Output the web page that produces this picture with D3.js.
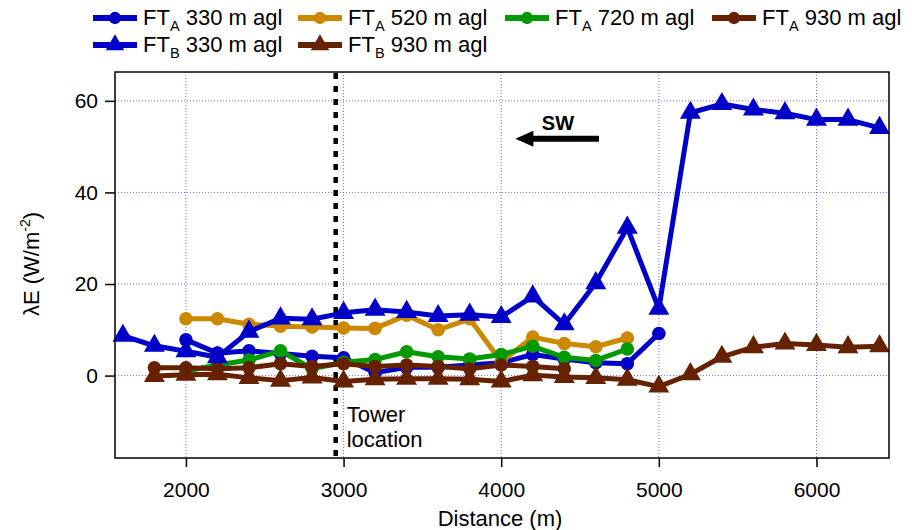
<!DOCTYPE html>
<html>
<head>
<meta charset="utf-8">
<script src="https://cdn.jsdelivr.net/npm/d3@7"></script>
<style>
  body { margin: 0; background: #fff; }
  text { font-family: "Liberation Sans", Arial, sans-serif; fill: #000; }
</style>
</head>
<body>
<svg id="chart" width="912" height="530"></svg>
<script>
// data (lambda E, W/m2) along the flight track, every 200 m
var distance = [1600, 1800, 2000, 2200, 2400, 2600, 2800, 3000, 3200, 3400, 3600, 3800, 4000,
                4200, 4400, 4600, 4800, 5000, 5200, 5400, 5600, 5800, 6000, 6200, 6400];

var ftA330 = [null, null, 7.8, 4.9, 5.4, 4.8, 4.2, 3.9, 0.6, 1.8, 1.8, 2.3, 2.8,
              4.6, 3.6, 2.8, 2.6, 9.2, null, null, null, null, null, null, null];
var ftA520 = [null, null, 12.4, 12.4, 11.2, 10.8, 10.6, 10.4, 10.3, 13.2, 10.0, 12.4, 3.0,
              8.4, 7.0, 6.3, 8.2, null, null, null, null, null, null, null, null];
var ftA720 = [null, null, 1.0, 2.3, 3.4, 5.4, 1.5, 2.9, 3.5, 5.2, 4.1, 3.6, 4.6,
              6.4, 4.0, 3.3, 5.8, null, null, null, null, null, null, null, null];
var ftA930 = [null, 1.7, 1.7, 1.5, 1.7, 2.6, 2.0, 2.6, 2.0, 2.3, 2.0, 1.5, 2.3,
              2.0, 1.5, null, null, null, null, null, null, null, null, null, null];
var ftB330 = [8.7, 6.5, 5.3, 4.0, 9.6, 12.5, 12.3, 13.7, 14.4, 13.9, 13.0, 13.3, 12.8,
              17.3, 11.2, 20.2, 32.3, 14.6, 57.4, 59.3, 58.1, 57.3, 55.9, 55.9, 54.1];
var ftB930 = [null, -0.1, 0.2, 0.3, -0.5, -1.1, -0.4, -1.3, -0.8, -0.7, -0.7, -0.8, -1.3,
              0.1, -0.3, -0.5, -0.9, -2.4, 0.3, 4.1, 6.2, 7.0, 6.7, 6.2, 6.4];

var xTicks = [2000, 3000, 4000, 5000, 6000];
var yTicks = [0, 20, 40, 60];
var towerAt = 2950;

// series: subscript, rest of name, values, colour, marker
var series = [
  {sub: "A", rest: " 330 m agl", values: ftA330, color: "#0000c8", shape: "circle"},
  {sub: "A", rest: " 520 m agl", values: ftA520, color: "#cc8800", shape: "circle"},
  {sub: "A", rest: " 720 m agl", values: ftA720, color: "#009a00", shape: "circle"},
  {sub: "A", rest: " 930 m agl", values: ftA930, color: "#662200", shape: "circle"},
  {sub: "B", rest: " 330 m agl", values: ftB330, color: "#0000c8", shape: "triangle"},
  {sub: "B", rest: " 930 m agl", values: ftB930, color: "#662200", shape: "triangle"}
];

var svg = d3.select("#chart");
var pLeft = 115, pRight = 889, pTop = 72, pBottom = 458;
var fs = 21;

var x = d3.scaleLinear().domain([1550, 6460]).range([pLeft, pRight]);
var y = d3.scaleLinear().domain([-18, 66.3]).range([pBottom, pTop]);

// grid
var grid = svg.append("g");
grid.selectAll(".gx").data(xTicks).enter().append("line")
  .attr("x1", function(d) { return x(d); }).attr("x2", function(d) { return x(d); })
  .attr("y1", pTop).attr("y2", pBottom)
  .attr("stroke", "#6e6eff").attr("stroke-width", 1).attr("stroke-dasharray", "1,2");
grid.selectAll(".gy").data(yTicks).enter().append("line")
  .attr("x1", pLeft).attr("x2", pRight)
  .attr("y1", function(d) { return y(d); }).attr("y2", function(d) { return y(d); })
  .attr("stroke", "#6e6eff").attr("stroke-width", 1).attr("stroke-dasharray", "1,2");

// tower line
svg.append("line")
  .attr("x1", x(towerAt)).attr("x2", x(towerAt))
  .attr("y1", pTop + 1).attr("y2", pBottom)
  .attr("stroke", "#000").attr("stroke-width", 4.5).attr("stroke-dasharray", "6,7");

svg.append("text").attr("x", x(towerAt) + 11).attr("y", y(-10.1))
  .attr("font-size", 22).text("Tower");
svg.append("text").attr("x", x(towerAt) + 11).attr("y", y(-15.5))
  .attr("font-size", 22).text("location");

// SW arrow
var arrowY = 51.7;
svg.append("line")
  .attr("x1", x(4620)).attr("x2", x(4190))
  .attr("y1", y(arrowY)).attr("y2", y(arrowY))
  .attr("stroke", "#000").attr("stroke-width", 6);
svg.append("path")
  .attr("d", "M" + x(4090) + "," + y(arrowY) + " L" + (x(4090) + 18) + "," + (y(arrowY) - 8) +
             " L" + (x(4090) + 18) + "," + (y(arrowY) + 8) + " Z")
  .attr("fill", "#000");
svg.append("text").attr("x", x(4360)).attr("y", y(arrowY) - 9)
  .attr("text-anchor", "middle").attr("font-size", 20).attr("font-weight", "bold").text("SW");

// series
var line = d3.line()
  .defined(function(d) { return d[1] !== null; })
  .x(function(d) { return x(d[0]); })
  .y(function(d) { return y(d[1]); });

function symbolPath(shape, size) {
  return d3.symbol().type(shape === "circle" ? d3.symbolCircle : d3.symbolTriangle).size(size)();
}

series.forEach(function(s) {
  var pts = distance.map(function(d, i) { return [d, s.values[i]]; });
  var g = svg.append("g");
  g.append("path").datum(pts)
    .attr("d", line)
    .attr("fill", "none").attr("stroke", s.color).attr("stroke-width", 5)
    .attr("stroke-linejoin", "round");
  g.selectAll("path.m").data(pts.filter(function(p) { return p[1] !== null; }))
    .enter().append("path").attr("class", "m")
    .attr("transform", function(p) { return "translate(" + x(p[0]) + "," + y(p[1]) + ")"; })
    .attr("d", symbolPath(s.shape, s.shape === "circle" ? 145 : 190))
    .attr("fill", s.color);
});

// axes
var xAxis = d3.axisBottom(x).tickValues(xTicks).tickSize(9).tickSizeOuter(0).tickFormat(d3.format("d"));
var gx = svg.append("g").attr("transform", "translate(0," + pBottom + ")").call(xAxis);
gx.select(".domain").remove();
gx.selectAll("line").attr("stroke", "#000").attr("stroke-width", 1.5);
gx.selectAll("text").attr("font-size", fs).attr("dy", "1.3em")
  .attr("font-family", "Liberation Sans, Arial, sans-serif").attr("fill", "#000");

var yAxis = d3.axisLeft(y).tickValues(yTicks).tickSize(10).tickSizeOuter(0);
var gy = svg.append("g").attr("transform", "translate(" + pLeft + ",0)").call(yAxis);
gy.select(".domain").remove();
gy.selectAll("line").attr("stroke", "#000").attr("stroke-width", 1.5);
gy.selectAll("text").attr("font-size", fs).attr("x", -17)
  .attr("font-family", "Liberation Sans, Arial, sans-serif").attr("fill", "#000");

// frame
svg.append("rect").attr("x", pLeft).attr("y", pTop)
  .attr("width", pRight - pLeft).attr("height", pBottom - pTop)
  .attr("fill", "none").attr("stroke", "#000").attr("stroke-width", 1.5);

// axis titles
svg.append("text").attr("x", 500).attr("y", 526)
  .attr("text-anchor", "middle").attr("font-size", 22).text("Distance (m)");
var yt = svg.append("text")
  .attr("transform", "translate(39,264) rotate(-90)")
  .attr("text-anchor", "middle").attr("font-size", 22);
yt.append("tspan").text("\u03bbE (W/m");
yt.append("tspan").attr("font-size", 14).attr("dy", -9).text("-2");
yt.append("tspan").attr("dy", 9).text(")");

// legend
var legendPos = [[93, 18], [298, 18], [505, 18], [712, 18], [93, 45], [298, 45]];
series.forEach(function(s, i) {
  var p = legendPos[i];
  var g = svg.append("g").attr("transform", "translate(" + p[0] + "," + p[1] + ")");
  g.append("line").attr("x1", 0).attr("x2", 44).attr("y1", 0).attr("y2", 0)
    .attr("stroke", s.color).attr("stroke-width", 6);
  g.append("path").attr("transform", "translate(22,0)")
    .attr("d", symbolPath(s.shape, s.shape === "circle" ? 120 : 150)).attr("fill", s.color);
  var t = g.append("text").attr("x", 50).attr("y", 7).attr("font-size", 22);
  t.append("tspan").text("FT");
  t.append("tspan").attr("font-size", 14.5).attr("dy", 6).text(s.sub);
  t.append("tspan").attr("dy", -6).text(s.rest);
});
</script>
</body>
</html>
